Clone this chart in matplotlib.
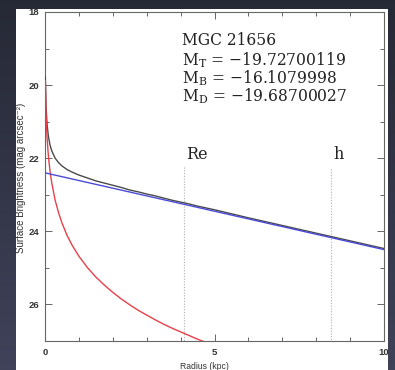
import numpy as np
import matplotlib
matplotlib.use("Agg")
import matplotlib.pyplot as plt
from matplotlib.patches import Rectangle

# Radial profile samples (radius in kpc, surface brightness in mag arcsec^-2)
radius = [0.01, 0.03, 0.06, 0.1, 0.15, 0.2, 0.3, 0.4, 0.5, 0.65, 0.8, 1.0,
          1.25, 1.5, 1.75, 2.0, 2.25, 2.5, 2.75, 3.0, 3.25, 3.5, 3.75, 4.0,
          4.25, 4.5, 4.75, 5.0, 6.0, 7.0, 8.0, 9.0, 10.0]
mu_bulge = [19.88, 20.79, 21.43, 21.94, 22.37, 22.68, 23.15, 23.49, 23.77, 24.11,
            24.38, 24.68, 24.99, 25.25, 25.47, 25.67, 25.85, 26.01, 26.16, 26.29,
            26.42, 26.54, 26.65, 26.75, 26.85, 26.95, 27.04, 27.12, 27.43, 27.70,
            27.93, 28.14, 28.34]
mu_total = [19.78, 20.57, 21.06, 21.40, 21.65, 21.80, 22.00, 22.12, 22.21, 22.31,
            22.38, 22.46, 22.54, 22.62, 22.68, 22.74, 22.80, 22.87, 22.92, 22.98,
            23.03, 23.09, 23.15, 23.20, 23.25, 23.31, 23.36, 23.41, 23.63, 23.84,
            24.05, 24.26, 24.47]
disk_radius = [0.0, 10.0]
mu_disk = [22.40, 24.50]

# Marker radii
r_eff = 4.10
h_scale = 8.45

galaxy = "MGC 21656"
mag_labels = ["T", "B", "D"]
mag_values = ["\u221219.72700119", "\u221216.1079998", "\u221219.68700027"]

W, H = 395, 370
fig = plt.figure(figsize=(W / 100, H / 100), dpi=100)
plt.rcParams["mathtext.fontset"] = "dejavuserif"

# dark gradient backdrop
grad = np.linspace(0, 1, 256)[:, None]
c_top = np.array([0.15, 0.16, 0.21])
c_bot = np.array([0.25, 0.26, 0.35])
img = c_top[None, None, :] * (1 - grad[:, :, None]) + c_bot[None, None, :] * grad[:, :, None]
img = np.repeat(img, 4, axis=1)

bg = fig.add_axes([0, 0, 1, 1], zorder=-2)
bg.imshow(img, extent=[0, 1, 0, 1], aspect="auto", origin="upper")
bg.add_patch(Rectangle((16 / W, 0), (388 - 16) / W, (H - 9) / H,
                       facecolor="white", edgecolor="none"))
bg.set_xlim(0, 1)
bg.set_ylim(0, 1)
bg.axis("off")

# main plotting area
ax = fig.add_axes([45 / W, 1 - 341 / H, (384 - 45) / W, (341 - 12) / H], zorder=1)
ax.set_facecolor("none")

ax.plot(radius, mu_total, color="#4a4a4a", lw=1.0, zorder=3)
ax.plot(radius, mu_bulge, color="#e8404a", lw=1.0, zorder=3)
ax.plot(disk_radius, mu_disk, color="#4a4ad8", lw=1.0, zorder=4)

ax.plot([r_eff, r_eff], [22.25, 27.0], color="#b0b0b0", lw=0.8, ls=(0, (1, 1.5)), zorder=2)
ax.plot([h_scale, h_scale], [22.30, 27.0], color="#b0b0b0", lw=0.8, ls=(0, (1, 1.5)), zorder=2)

serif = "DejaVu Serif"
ax.text(4.16, 22.02, "Re", family=serif, fontsize=11.5, color="#222222", va="baseline")
ax.text(8.52, 22.02, "h", family=serif, fontsize=11.5, color="#222222", va="baseline")

ax.text(4.03, 18.91, galaxy, family=serif, fontsize=11.2, color="#222222", va="baseline")
for i, (lab, val) in enumerate(zip(mag_labels, mag_values)):
    ax.text(4.03, 19.45 + i * 0.49, "M$_{\\mathrm{%s}}$ = %s" % (lab, val),
            family=serif, fontsize=11.2, color="#222222", va="baseline")

ax.set_xlim(0, 10)
ax.set_ylim(27, 18)
ax.set_xticks([0, 5, 10])
ax.set_xticks(np.arange(0, 11, 1), minor=True)
ax.set_yticks([18, 20, 22, 24, 26])
ax.set_yticks(np.arange(18, 28, 1), minor=True)
ax.tick_params(which="both", direction="in", top=True, right=True,
               color="#666666", width=0.7)
ax.tick_params(which="major", length=5, labelsize=6.8, labelcolor="#333333")
ax.tick_params(which="minor", length=3)
ax.tick_params(axis="y", pad=4)
ax.tick_params(axis="x", pad=5)
for lbl in ax.get_xticklabels() + ax.get_yticklabels():
    lbl.set_family("Liberation Sans")
    lbl.set_fontweight("bold")
for sp in ax.spines.values():
    sp.set_color("#666666")
    sp.set_linewidth(0.8)

fig.text(204 / W, 1 - 366.5 / H, "Radius (kpc)", ha="center", va="center",
         family=["Liberation Sans", "DejaVu Sans"], fontsize=6.2, color="#333333")
fig.text(21 / W, 1 - 177.5 / H, "Surface Brightness (mag arcsec\u207b\u00b2)",
         ha="center", va="center", rotation=90,
         family=["Liberation Sans", "DejaVu Sans"], fontsize=7, color="#333333")

# backdrop strips drawn over the panel border (clip tick labels at the edges)
ov = fig.add_axes([0, 0, 1, 1], zorder=5)
ov.set_xlim(0, 1)
ov.set_ylim(0, 1)
ov.axis("off")
for rect in [(0, 1 - 9 / H, 1, 9 / H), (388 / W, 0, 1 - 388 / W, 1)]:
    im = ov.imshow(img, extent=[0, 1, 0, 1], aspect="auto", origin="upper")
    clip = Rectangle(rect[:2], rect[2], rect[3], transform=ov.transData,
                     facecolor="none", edgecolor="none")
    ov.add_patch(clip)
    im.set_clip_path(clip)

fig.savefig("out.png", dpi=100)
